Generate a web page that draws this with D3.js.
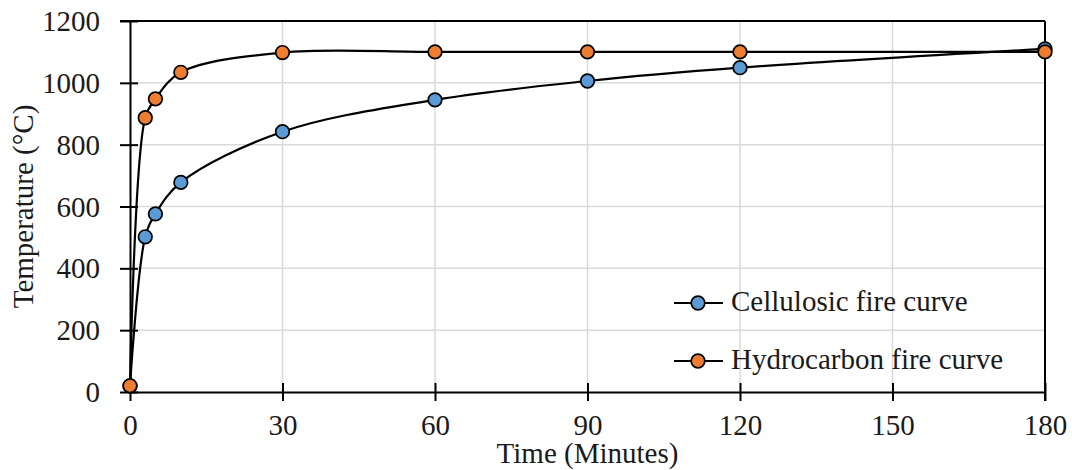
<!DOCTYPE html>
<html><head><meta charset="utf-8">
<script src="https://cdn.jsdelivr.net/npm/d3@7"></script>
<style>body{margin:0;background:#fff}</style>
</head><body><svg id="c" width="1072" height="470"></svg>
<script>
const times = [0, 3, 5, 10, 30, 60, 90, 120, 180];
const cellulosic = [20, 502, 576, 678, 842, 945, 1006, 1049, 1110];
const hydrocarbon = [20, 887, 948, 1034, 1098, 1100, 1100, 1100, 1100];
const seriesNames = ["Cellulosic fire curve", "Hydrocarbon fire curve"];
const seriesColors = ["#5b9bd5", "#ed7d31"];
const xTicks = [0, 30, 60, 90, 120, 150, 180];
const yTicks = [0, 200, 400, 600, 800, 1000, 1200];

const FONT = "'Liberation Serif', 'Times New Roman', Times, serif";
const TXT = "#1a1a1a";
const svg = d3.select("#c").style("font-family", FONT);
const L = 130, R = 1045, T = 21, B = 392;
const x = d3.scaleLinear().domain([0, 180]).range([L, R]);
const y = d3.scaleLinear().domain([0, 1200]).range([B, T]);

// gridlines
svg.append("g").selectAll("line").data(yTicks.filter(d => d > 0 && d < 1200)).join("line")
  .attr("x1", L).attr("x2", R).attr("y1", d => y(d)).attr("y2", d => y(d))
  .attr("stroke", "#d9d9d9").attr("stroke-width", 1.5);
svg.append("g").selectAll("line").data(xTicks.filter(d => d > 0 && d < 180)).join("line")
  .attr("y1", T).attr("y2", B).attr("x1", d => x(d)).attr("x2", d => x(d))
  .attr("stroke", "#d9d9d9").attr("stroke-width", 1.5);

// frame
svg.append("line").attr("x1", L - 10).attr("x2", R).attr("y1", T).attr("y2", T).attr("stroke", "#000").attr("stroke-width", 2);
svg.append("line").attr("x1", R).attr("x2", R).attr("y1", T).attr("y2", B + 9).attr("stroke", "#000").attr("stroke-width", 2);

// axes
const yAxis = svg.append("g").attr("transform", `translate(${L},0)`)
  .call(d3.axisLeft(y).tickValues(yTicks).tickFormat(d3.format("d")).tickSizeInner(10).tickSizeOuter(0).tickPadding(20));
yAxis.selectAll(".tick line").attr("x2", 8).attr("x1", -10);
const xAxis = svg.append("g").attr("transform", `translate(0,${B})`)
  .call(d3.axisBottom(x).tickValues(xTicks).tickFormat(d3.format("d")).tickSizeInner(9).tickSizeOuter(0).tickPadding(14));
xAxis.selectAll(".tick line").attr("y1", -9).attr("y2", 9);
[yAxis, xAxis].forEach(a => {
  a.attr("font-family", FONT).attr("font-size", 29);
  a.select(".domain").attr("stroke", "#000").attr("stroke-width", 2);
  a.selectAll(".tick line").attr("stroke", "#000").attr("stroke-width", 2);
  a.selectAll(".tick text").attr("fill", TXT);
});
yAxis.selectAll(".tick text").attr("x", -30).attr("dy", "0.33em");
xAxis.selectAll(".tick text").attr("y", 43).attr("dy", 0);

// axis titles
svg.append("text").attr("x", (L + R) / 2).attr("y", 463).attr("text-anchor", "middle")
  .attr("font-family", FONT).attr("font-size", 29).attr("fill", TXT).text("Time (Minutes)");
svg.append("text").attr("transform", `translate(33,${(T + B) / 2}) rotate(-90)`).attr("text-anchor", "middle")
  .attr("font-family", FONT).attr("font-size", 29).attr("fill", TXT).text("Temperature (°C)");

// series
const data = [cellulosic, hydrocarbon];
const line = d3.line().x(d => x(d[0])).y(d => y(d[1])).curve(d3.curveCatmullRom.alpha(0.5));
data.forEach((vals, i) => {
  const pts = times.map((t, j) => [t, vals[j]]);
  svg.append("path").datum(pts).attr("d", line).attr("fill", "none")
    .attr("stroke", "#000").attr("stroke-width", 2.2);
});
data.forEach((vals, i) => {
  const pts = times.map((t, j) => [t, vals[j]]);
  svg.append("g").selectAll("circle").data(pts).join("circle")
    .attr("cx", d => x(d[0])).attr("cy", d => y(d[1])).attr("r", 6.8)
    .attr("fill", seriesColors[i]).attr("stroke", "#000").attr("stroke-width", 1.7);
});

// legend
seriesNames.forEach((name, i) => {
  const ly = 303 + i * 58;
  const g = svg.append("g");
  g.append("line").attr("x1", 674).attr("x2", 723).attr("y1", ly).attr("y2", ly).attr("stroke", "#000").attr("stroke-width", 2.2);
  g.append("circle").attr("cx", 698).attr("cy", ly).attr("r", 6.8).attr("fill", seriesColors[i]).attr("stroke", "#000").attr("stroke-width", 1.7);
  g.append("text").attr("x", 731).attr("y", ly + 8).attr("font-family", FONT).attr("font-size", 29).attr("fill", TXT).text(name);
});
</script></body></html>
